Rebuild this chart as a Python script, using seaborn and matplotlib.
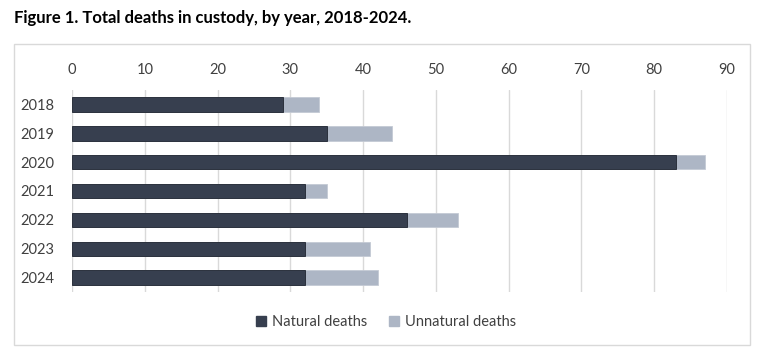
import matplotlib
matplotlib.use('Agg')
import matplotlib.pyplot as plt
import matplotlib.patches as mpatches
import seaborn as sns
import pandas as pd

years = ['2018', '2019', '2020', '2021', '2022', '2023', '2024']
natural = [29, 35, 83, 32, 46, 32, 32]
unnatural = [5, 9, 4, 3, 7, 9, 10]

DARK = '#373f4f'
LIGHT = '#adb6c5'

sns.set_theme(style='white')
plt.rcParams['font.family'] = ['Lato', 'DejaVu Sans']

df = pd.DataFrame({'year': years, 'natural': natural, 'unnatural': unnatural})
df['total'] = df['natural'] + df['unnatural']

fig = plt.figure(figsize=(7.68, 3.63), dpi=100)
ax = fig.add_axes([72 / 768, 1 - 292 / 363, (727 - 72) / 768, (292 - 90) / 363])

sns.barplot(data=df, x='total', y='year', color=LIGHT, width=0.5, ax=ax,
            saturation=1, edgecolor='#c4cad4', linewidth=0.6)
sns.barplot(data=df, x='natural', y='year', color=DARK, width=0.5, ax=ax,
            saturation=1, edgecolor='#1f2530', linewidth=0.6)

ax.set_xlim(0, 90)
ax.set_xticks(range(0, 91, 10))
ax.xaxis.tick_top()
ax.xaxis.set_label_position('top')
ax.set_xlabel('')
ax.set_ylabel('')
ax.grid(axis='x', color='#d9d9d9', linewidth=1)
ax.set_axisbelow(True)
for s in ax.spines.values():
    s.set_visible(False)
ax.tick_params(axis='both', length=0, labelsize=10.5, colors='#404040')
ax.tick_params(axis='x', pad=9)
ax.tick_params(axis='y', pad=13)

# chart frame
fig.patches.append(mpatches.Rectangle((14 / 768, 1 - 345 / 363), (750 - 14) / 768, (345 - 44) / 363,
                                      transform=fig.transFigure, fill=False,
                                      edgecolor='#d9d9d9', linewidth=1))

fig.text(14 / 768, 1 - 18 / 363, 'Figure 1. Total deaths in custody, by year, 2018-2024.',
         fontsize=12, fontweight='bold', color='black', va='center', ha='left')

handles = [mpatches.Patch(color=DARK, label='Natural deaths'),
           mpatches.Patch(color=LIGHT, label='Unnatural deaths')]
fig.legend(handles=handles, loc='center', bbox_to_anchor=(386 / 768, 1 - 322 / 363), ncol=2,
           frameon=False, fontsize=10.5, handlelength=0.7, handleheight=0.7,
           handletextpad=0.4, columnspacing=1.5, labelcolor='#404040')

fig.savefig('out.png', dpi=100)
